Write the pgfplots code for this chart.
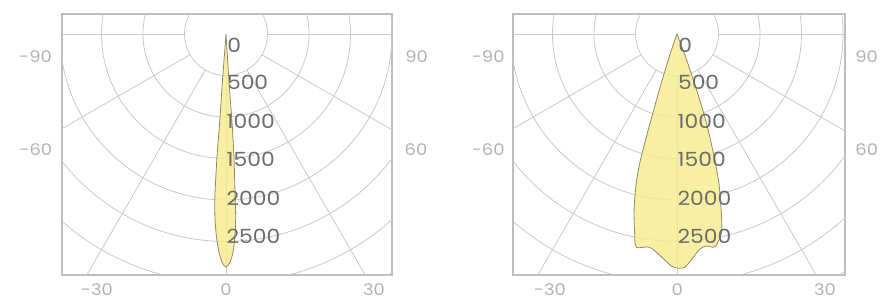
\documentclass[border=0pt]{standalone}
\usepackage{pgfplots}
\pgfplotsset{compat=1.18}
\usepackage{pgfplotstable}
\usepackage{fontspec}
\setmainfont{Poppins}
\newfontfamily\wideface[FakeStretch=1.12]{Poppins}
\definecolor{gridc}{HTML}{C9C9C9}
\definecolor{framec}{HTML}{BDBDBD}
\definecolor{lobefill}{HTML}{F8EC8E}
\definecolor{lobeline}{HTML}{8E8A66}
\definecolor{ringtxt}{HTML}{6C6C6C}
\definecolor{angtxt}{HTML}{B2B2B2}

% polar data: angle (deg, 0 = straight down), intensity (cd)
\pgfplotstableread{
a I
-10 0
-4.3 578
-4.1 1060
-4.2 1482
-3.9 1976
-3.4 2229
-2.7 2446
-1.8 2639
-0.9 2760
0 2808
0.9 2760
1.8 2639
2.5 2446
3.0 2229
3.2 1976
3.7 1482
3.9 1060
3.6 578
10 0
}\lobeA

\pgfplotstableread{
a I
-22 0
-19.0 250
-17.8 600
-17.0 990
-16.5 1370
-16.0 1663
-15.1 1906
-13.7 2184
-12.0 2455
-10.8 2616
-7.3 2591
-3.6 2708
-1.4 2797
0.2 2823
1.9 2813
3.6 2729
6.0 2609
7.9 2579
9.6 2606
10.6 2586
12.6 2457
13.7 2265
15.7 1865
17.1 1463
18.4 1095
19.4 677
20.5 300
22 0
}\lobeB

\newcommand{\polargrid}{%
  \draw[gridc, line width=0.8pt] (axis cs:0,0) circle[radius=500];
  \draw[gridc, line width=0.8pt] (axis cs:0,0) circle[radius=1000];
  \draw[gridc, line width=0.8pt] (axis cs:0,0) circle[radius=1500];
  \draw[gridc, line width=0.8pt] (axis cs:0,0) circle[radius=2000];
  \draw[gridc, line width=0.8pt] (axis cs:0,0) circle[radius=2500];
  \draw[gridc, line width=0.8pt] (axis cs:0,0) circle[radius=3000];
  \draw[gridc, line width=0.8pt] (axis cs:0,0) circle[radius=3500];
  \draw[gridc, line width=0.8pt] (axis cs:-500,0) -- (axis cs:-4000,0);
  \draw[gridc, line width=0.8pt] (axis cs:500,0) -- (axis cs:4000,0);
  \draw[gridc, line width=0.8pt] (axis cs:0,-500) -- (axis cs:0,-4000);
  \draw[gridc, line width=0.8pt] (axis cs:-250,-433) -- (axis cs:-2000,-3464);
  \draw[gridc, line width=0.8pt] (axis cs:250,-433) -- (axis cs:2000,-3464);
  \draw[gridc, line width=0.8pt] (axis cs:-433,-250) -- (axis cs:-3464,-2000);
  \draw[gridc, line width=0.8pt] (axis cs:433,-250) -- (axis cs:3464,-2000);
}
\newcommand{\ringlabels}{%
  \node[anchor=west, inner sep=0pt, text=ringtxt, font=\wideface\fontsize{19.5}{19.5}\selectfont] at (axis cs:15,-133) {0};
  \node[anchor=west, inner sep=0pt, text=ringtxt, font=\wideface\fontsize{19.5}{19.5}\selectfont] at (axis cs:10,-578) {500};
  \node[anchor=west, inner sep=0pt, text=ringtxt, font=\wideface\fontsize{19.5}{19.5}\selectfont] at (axis cs:5,-1055) {1000};
  \node[anchor=west, inner sep=0pt, text=ringtxt, font=\wideface\fontsize{19.5}{19.5}\selectfont] at (axis cs:5,-1510) {1500};
  \node[anchor=west, inner sep=0pt, text=ringtxt, font=\wideface\fontsize{19.5}{19.5}\selectfont] at (axis cs:5,-1980) {2000};
  \node[anchor=west, inner sep=0pt, text=ringtxt, font=\wideface\fontsize{19.5}{19.5}\selectfont] at (axis cs:5,-2440) {2500};
}
\pgfplotsset{
  photo/.style={
    scale only axis,
    height=261pt,
    ymin=-2904, ymax=241,
    xtick=\empty, ytick=\empty,
    axis line style={draw=framec, line width=1.6pt},
    anchor=south west,
  },
  lobe/.style={
    fill=lobefill, fill opacity=0.82, draw=lobeline, draw opacity=1,
    line width=0.8pt, smooth, tension=0.45,
  },
}

\begin{document}
\begin{tikzpicture}
\useasboundingbox (0,0) rectangle (881pt,306pt);

\begin{axis}[photo, at={(62pt,31pt)}, width=330pt, xmin=-1976, xmax=2000]
  \polargrid
  \addplot[lobe] table[x expr={\thisrow{I}*sin(\thisrow{a})}, y expr={-\thisrow{I}*cos(\thisrow{a})}] {\lobeA};
  \ringlabels
\end{axis}

\begin{axis}[photo, at={(513pt,31pt)}, width=332pt, xmin=-1976, xmax=2024]
  \polargrid
  \addplot[lobe] table[x expr={\thisrow{I}*sin(\thisrow{a})}, y expr={-\thisrow{I}*cos(\thisrow{a})}] {\lobeB};
  \ringlabels
\end{axis}

\begin{scope}[every node/.style={text=angtxt, font=\wideface\fontsize{16}{16}\selectfont, inner sep=0pt}]
  \node at (35.7pt,249pt) {-90};
  \node at (36pt,156pt) {-60};
  \node at (416.7pt,249pt) {90};
  \node at (416pt,156pt) {60};
  \node at (97pt,16pt) {-30};
  \node at (226pt,16pt) {0};
  \node at (374pt,16pt) {30};
  \node at (488.3pt,249pt) {-90};
  \node at (488.3pt,156pt) {-60};
  \node at (866.7pt,249pt) {90};
  \node at (866.7pt,156pt) {60};
  \node at (550pt,16pt) {-30};
  \node at (677.3pt,16pt) {0};
  \node at (825pt,16pt) {30};
\end{scope}
\end{tikzpicture}
\end{document}
